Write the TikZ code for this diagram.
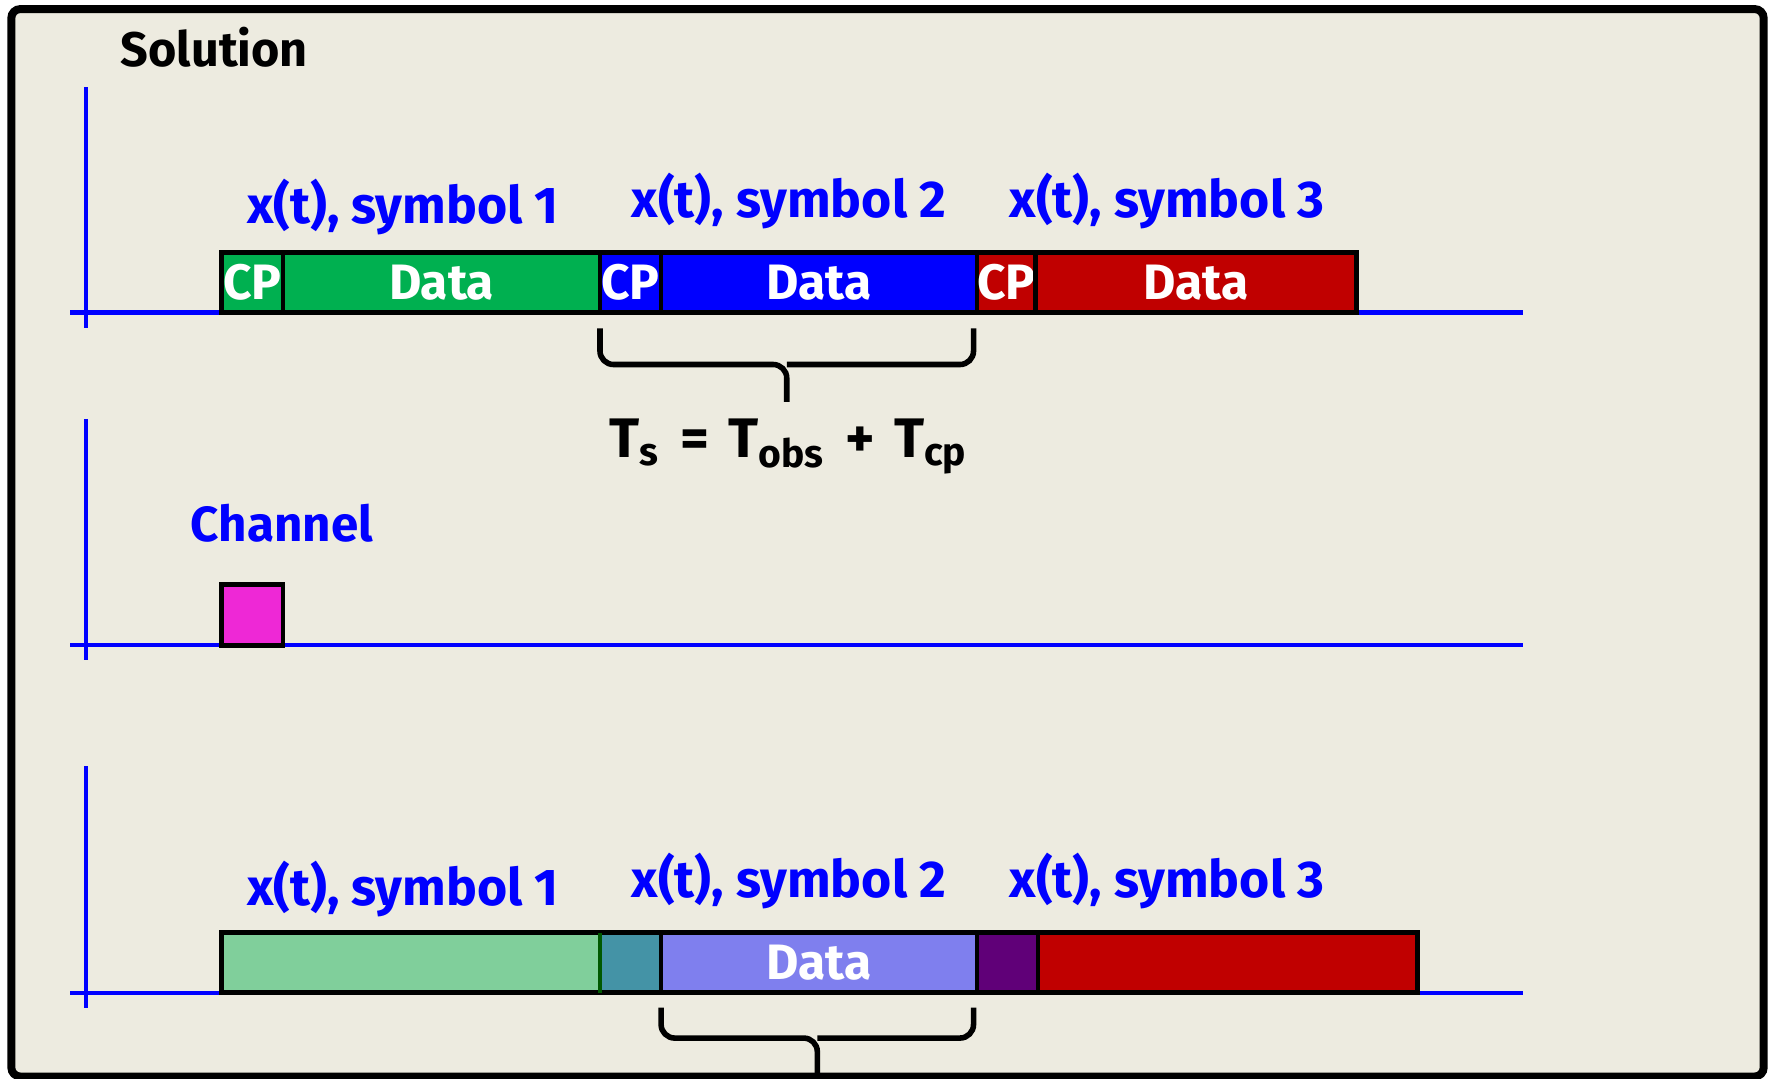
\documentclass[tikz,border=0pt]{standalone}
\usepackage{fontspec}
\setmainfont{Fira Sans}
\usepackage{tikz}
\usetikzlibrary{positioning}

\definecolor{paper}{RGB}{237,235,224}
\definecolor{sigblue}{RGB}{0,0,255}
\definecolor{cpgreen}{RGB}{0,176,80}
\definecolor{cpred}{RGB}{192,0,0}
\definecolor{chanpink}{RGB}{238,40,214}
\definecolor{mixgreen}{RGB}{128,207,155}
\definecolor{mixteal}{RGB}{68,147,166}
\definecolor{mixblue}{RGB}{127,127,238}
\definecolor{mixpurple}{RGB}{96,0,120}

\tikzset{
  axis/.style={draw=sigblue, line width=1.1pt},
  seg/.style={draw=black, line width=1.2pt, outer sep=0pt, inner sep=0pt,
    minimum height=5.3mm, text=white, font=\bfseries\fontsize{12.5}{14}\selectfont},
  lbl/.style={text=sigblue, anchor=base, font=\bfseries\fontsize{13}{15}\selectfont},
  bracket/.style={line width=1.4pt, rounded corners=1.2mm},
}

\begin{document}
\begin{tikzpicture}[x=1mm, y=-1mm]
    \useasboundingbox (0,0) rectangle (156.8,95.3);
    \draw[line width=2pt, fill=paper, rounded corners=0.8mm] (1.0,0.8) rectangle (155.8,95.1);
    \node[anchor=base west, inner sep=0pt, font=\bfseries\fontsize{12.2}{14}\selectfont] (title) at (10.6,5.9) {Solution};

    % axes
    \draw[axis] (7.6,7.7)--(7.6,29.0) (6.2,27.6)--(134.5,27.6);
    \draw[axis] (7.6,37.0)--(7.6,58.3) (6.2,57.0)--(134.5,57.0);
    \draw[axis] (7.6,67.7)--(7.6,89.0) (6.2,87.7)--(134.5,87.7);

    % transmitted symbols
    \node[seg, fill=cpgreen, minimum width=5.4mm, anchor=south west] (cpA) at (19.6,27.6) {CP};
    \node[seg, fill=cpgreen, minimum width=28.0mm, right=0pt of cpA] (dataA) {Data};
    \node[seg, fill=sigblue, minimum width=5.4mm, right=0pt of dataA] (cpB) {CP};
    \node[seg, fill=sigblue, minimum width=27.9mm, right=0pt of cpB] (dataB) {Data};
    \node[seg, fill=cpred, minimum width=5.2mm, right=0pt of dataB] (cpC) {CP};
    \node[seg, fill=cpred, minimum width=28.3mm, right=0pt of cpC] (dataC) {Data};
    \node[lbl] (symA) at (35.6,19.7) {x(t), symbol 1};
    \node[lbl] (symB) at (69.7,19.2) {x(t), symbol 2};
    \node[lbl] (symC) at (103.1,19.2) {x(t), symbol 3};

    \coordinate (brA) at (53.0,29.0);
    \coordinate (brB) at (86.0,29.0);
    \coordinate (tipA) at (69.5,35.5);
    \draw[bracket] (brA) -- (53.0,32.2) -- (69.5,32.2) -- (tipA);
    \draw[bracket] (brB) -- (86.0,32.2) -- (69.5,32.2);
    \node[anchor=base, font=\bfseries\fontsize{14}{16}\selectfont] (tsym) at (69.7,40.4)
        {T\textsubscript{s}\hspace{0.35em}=\hspace{0.35em}T\textsubscript{obs}\hspace{0.35em}+\hspace{0.35em}T\textsubscript{cp}};

    % channel
    \node[lbl, font=\bfseries\fontsize{12.4}{14}\selectfont] (chan) at (24.9,47.8) {Channel};
    \node[seg, fill=chanpink, minimum width=5.4mm, minimum height=5.4mm, anchor=south west] (tap) at (19.6,57.0) {};

    % received symbols
    \node[seg, fill=mixgreen, minimum width=33.4mm, anchor=south west] (rxA) at (19.6,87.7) {};
    \node[seg, fill=mixteal, minimum width=5.4mm, right=0pt of rxA] (rxcpB) {};
    \node[seg, fill=mixblue, minimum width=27.9mm, right=0pt of rxcpB] (rxB) {Data};
    \node[seg, fill=mixpurple, minimum width=5.4mm, right=0pt of rxB] (rxcpC) {};
    \node[seg, fill=cpred, minimum width=33.5mm, right=0pt of rxcpC] (rxC) {};
    \draw[line width=0.8pt, draw=green!35!black] (rxA.north east) -- (rxA.south east);
    \node[lbl] (rsymA) at (35.6,80.0) {x(t), symbol 1};
    \node[lbl] (rsymB) at (69.7,79.3) {x(t), symbol 2};
    \node[lbl] (rsymC) at (103.1,79.3) {x(t), symbol 3};

    \coordinate (brC) at (58.4,89.0);
    \coordinate (brD) at (86.0,89.0);
    \coordinate (tipB) at (72.2,95.0);
    \draw[bracket] (brC) -- (58.4,91.7) -- (72.2,91.7) -- (tipB);
    \draw[bracket] (brD) -- (86.0,91.7) -- (72.2,91.7);
\end{tikzpicture}
\end{document}
